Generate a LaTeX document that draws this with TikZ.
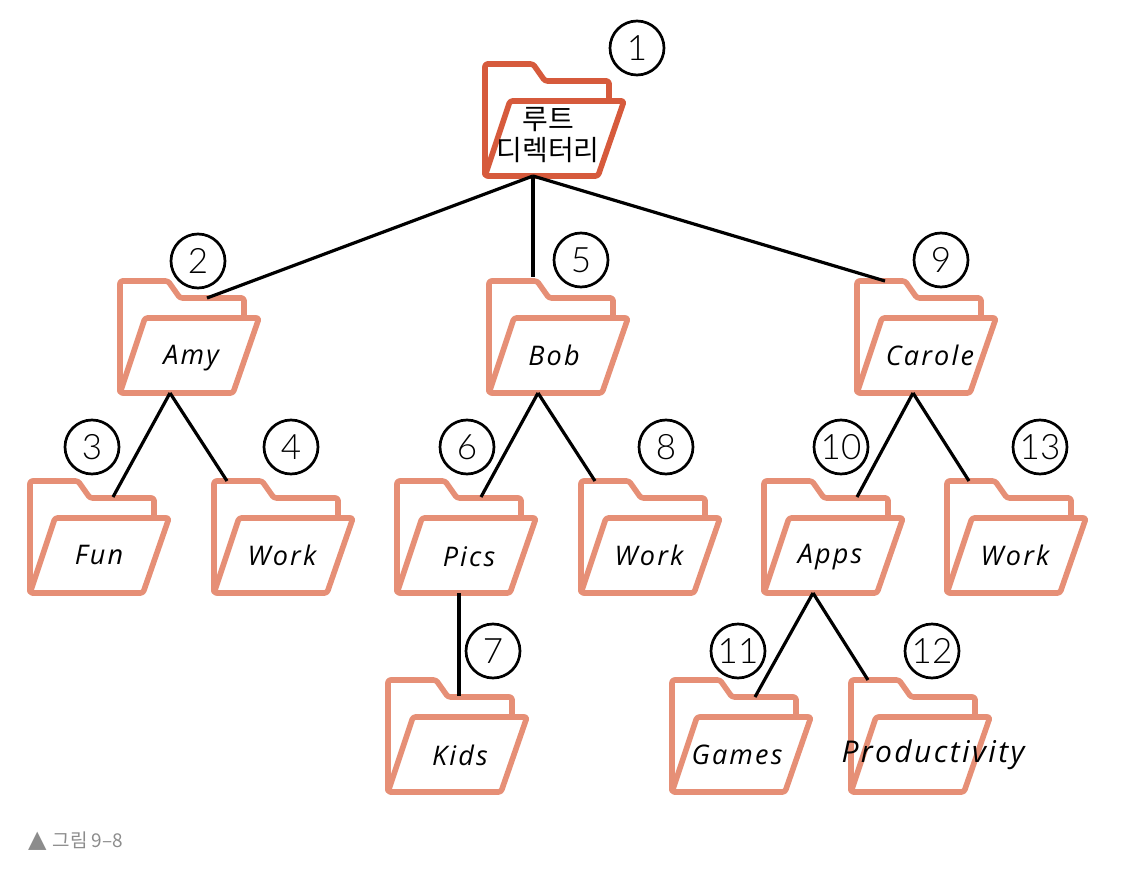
\documentclass[tikz,border=0pt]{standalone}
\usepackage{fontspec}
\setmainfont{Open Sans}
\newfontfamily\hand[LetterSpace=8]{Open Sans}
\newfontfamily\numf{Lato Light}
\newfontfamily\kor{Noto Sans CJK KR}
\definecolor{folderc}{HTML}{E68F76}
\definecolor{rootc}{HTML}{D65A3C}
\definecolor{capc}{HTML}{8C8C8C}
\tikzset{
  foldline/.style={line width=5.6pt,line join=round,rounded corners=2.5pt,fill=white},
  foldbox/.style={inner sep=0pt,outer sep=0pt,minimum width=139pt,minimum height=112pt,anchor=north west},
  lbl/.style={inner sep=0pt,font=\hand\itshape\fontsize{27}{29}\selectfont,text=black},
  num/.style={circle,draw=black,line width=2.7pt,minimum size=54pt,inner sep=0pt,fill=white,font=\numf\fontsize{35}{35}\selectfont},
  conn/.style={draw=black,line width=3.2pt},
  korlbl/.style={inner sep=0pt,font=\kor\fontsize{28}{30}\selectfont},
}
% \folder{name}{x}{y}{colour}
\newcommand{\folder}[4]{%
  \node[foldbox] (#1) at (#2,#3) {};
  \begin{scope}[shift={(#2,#3)}]
    \draw[foldline,draw=#4] (0,112) -- (0,0) -- (48,0) -- (60,17) -- (124,17) -- (124,50) -- (0,112) -- cycle;
    \draw[foldline,draw=#4] (25,37) -- (139,37) -- (113,112) -- (0,112) -- cycle;
  \end{scope}}
\begin{document}
\begin{tikzpicture}[x=1pt,y=-1pt]
\useasboundingbox (0,0) rectangle (1134,874);
\folder{root}{485}{64}{rootc}
\folder{amy}{120}{281}{folderc}
\folder{bob}{489}{281}{folderc}
\folder{carole}{857}{281}{folderc}
\folder{fun}{30}{481}{folderc}
\folder{worka}{214}{481}{folderc}
\folder{pics}{397}{481}{folderc}
\folder{workb}{581}{481}{folderc}
\folder{apps}{764}{481}{folderc}
\folder{workc}{947}{481}{folderc}
\folder{kids}{388}{680}{folderc}
\folder{games}{672}{680}{folderc}
\folder{prod}{851}{680}{folderc}
% connectors
\draw[conn] ([shift={(48,0)}]root.south west) -- ([shift={(87,17)}]amy.north west);
\draw[conn] ([shift={(48,0)}]root.south west) -- ([shift={(44,-4)}]bob.north west);
\draw[conn] ([shift={(48,0)}]root.south west) -- ([shift={(28,0)}]carole.north west);
\draw[conn] ([shift={(50,0)}]amy.south west) -- ([shift={(83,16)}]fun.north west);
\draw[conn] ([shift={(50,0)}]amy.south west) -- ([shift={(13,0)}]worka.north west);
\draw[conn] ([shift={(49,0)}]bob.south west) -- ([shift={(84,16)}]pics.north west);
\draw[conn] ([shift={(49,0)}]bob.south west) -- ([shift={(14,0)}]workb.north west);
\draw[conn] ([shift={(56,0)}]carole.south west) -- ([shift={(93,16)}]apps.north west);
\draw[conn] ([shift={(56,0)}]carole.south west) -- ([shift={(22,0)}]workc.north west);
\draw[conn] ([shift={(62,0)}]pics.south west) -- ([shift={(71,16)}]kids.north west);
\draw[conn] ([shift={(49,0)}]apps.south west) -- ([shift={(83,17)}]games.north west);
\draw[conn] ([shift={(49,0)}]apps.south west) -- ([shift={(17,0)}]prod.north west);
% labels
\node[lbl] (lamy) at (191,358) {Amy};
\node[lbl] (lbob) at (554,355) {Bob};
\node[lbl] (lcarole) at (930,355) {Carole};
\node[lbl] (lfun) at (99,555) {Fun};
\node[lbl] (lworka) at (282,555) {Work};
\node[lbl] (lpics) at (469,557) {Pics};
\node[lbl] (lworkb) at (649,555) {Work};
\node[lbl] (lapps) at (830,557) {Apps};
\node[lbl] (lworkc) at (1015,555) {Work};
\node[lbl] (lkids) at (460,755) {Kids};
\node[lbl] (lgames) at (737,755) {Games};
\node[lbl,font=\hand\itshape\fontsize{30}{32}\selectfont] (lprod) at (933,755) {Productivity};
\node[korlbl] (lroota) at (548,120) {루트};
\node[korlbl] (lrootb) at (548,150) {디렉터리};
% numbers
\node[num] (n1) at (637,48) {1};
\node[num] (n2) at (198,261) {2};
\node[num] (n5) at (581,260) {5};
\node[num] (n9) at (941,260) {9};
\node[num] (n3) at (92,447) {3};
\node[num] (n4) at (291,447) {4};
\node[num] (n6) at (467,447) {6};
\node[num] (n8) at (666,447) {8};
\node[num] (n10) at (841,447) {10};
\node[num] (n13) at (1040,447) {13};
\node[num] (n7) at (493,651) {7};
\node[num] (n11) at (738,651) {11};
\node[num] (n12) at (932,651) {12};
% caption
\node[anchor=west,inner sep=0pt,text=capc,font=\kor\fontsize{19}{21}\selectfont] (cap) at (28,841) {{\fontspec{DejaVu Sans}\fontsize{24}{24}\selectfont ▲}\hspace{6pt}그림 9–8};
\end{tikzpicture}
\end{document}
